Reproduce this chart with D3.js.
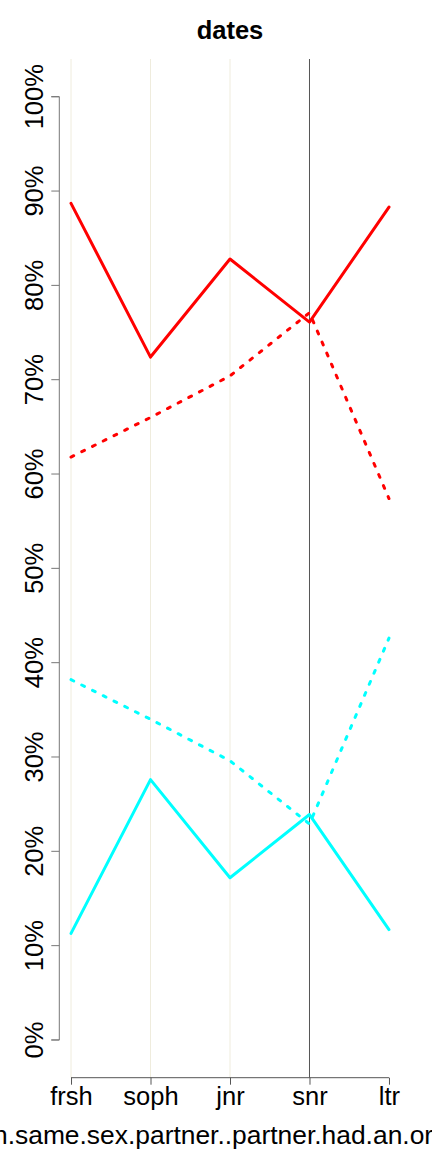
<!DOCTYPE html>
<html>
<head>
<meta charset="utf-8">
<script src="https://cdn.jsdelivr.net/npm/d3@7"></script>
<style>
html,body{margin:0;padding:0;background:#fff;overflow:hidden;}
svg{display:block;}
text{font-family:"Liberation Sans",Arial,Helvetica,sans-serif;fill:#000;}
</style>
</head>
<body>
<svg id="chart" width="432" height="1152"></svg>
<script>
// ---- data ----
const categories = ["frsh", "soph", "jnr", "snr", "ltr"];
const redSolid   = [88.7, 72.4, 82.8, 76.1, 88.3];
const cyanSolid  = [11.3, 27.6, 17.2, 23.9, 11.7];
const redDashed  = [61.8, 66.0, 70.4, 77.1, 57.4];
const cyanDashed = [38.2, 34.0, 29.6, 22.9, 42.6];
const yTicks = [0, 10, 20, 30, 40, 50, 60, 70, 80, 90, 100];
const titleText = "dates";
const xLabelPrefix = "Date.with.ow";
const xLabelText = "n.same.sex.partner..partner.had.an.orgasm";
const markedCategory = "snr";
const gridCategories = ["frsh", "soph", "jnr"];

const series = [
  {values: redDashed,  color: "#FF0000", dashed: true},
  {values: cyanDashed, color: "#00FFFF", dashed: true},
  {values: redSolid,   color: "#FF0000", dashed: false},
  {values: cyanSolid,  color: "#00FFFF", dashed: false}
];

// ---- layout ----
const plot = {left: 58.3, right: 401.7, top: 59, bottom: 1077.7};
const svg = d3.select("#chart");

const xIdx = d3.scaleLinear()
  .domain([-0.16, 4.16])
  .range([plot.left, plot.right]);
const x = c => xIdx(categories.indexOf(c));
const y = d3.scaleLinear()
  .domain([-4, 104])
  .range([plot.bottom, plot.top]);

const FS = 25.5;

// gridlines
svg.append("g").selectAll("line")
  .data(gridCategories).join("line")
  .attr("x1", d => x(d)).attr("x2", d => x(d))
  .attr("y1", plot.top).attr("y2", plot.bottom)
  .attr("stroke", "#EFECDD").attr("stroke-width", 1);

// marked vertical line
svg.append("line")
  .attr("x1", x(markedCategory)).attr("x2", x(markedCategory))
  .attr("y1", plot.top).attr("y2", plot.bottom)
  .attr("stroke", "#555").attr("stroke-width", 1);

// data lines
const line = d3.line()
  .x((d, i) => xIdx(i))
  .y(d => y(d));
svg.append("g").selectAll("path")
  .data(series).join("path")
  .attr("d", d => line(d.values))
  .attr("fill", "none")
  .attr("stroke", d => d.color)
  .attr("stroke-width", 3)
  .attr("stroke-linejoin", "round")
  .attr("stroke-linecap", "round")
  .attr("stroke-dasharray", d => d.dashed ? "3,9" : null);

// y axis
const yAxisG = svg.append("g")
  .attr("transform", `translate(${plot.left + 1},0)`)
  .call(d3.axisLeft(y).tickValues(yTicks).tickSize(8).tickFormat(d => d + "%"));
yAxisG.select(".domain").attr("d", `M-8,${y(0)}H0V${y(100)}H-8`).attr("stroke", "#777");
yAxisG.selectAll(".tick line").attr("stroke", "#777");
yAxisG.selectAll(".tick text")
  .attr("font-size", FS)
  .attr("font-family", "Liberation Sans, Arial, sans-serif")
  .attr("fill", "#000")
  .attr("text-anchor", "middle")
  .attr("transform", "rotate(-90)")
  .attr("x", 0).attr("y", -16.6).attr("dy", 0)
  .style("dominant-baseline", "auto");
yAxisG.selectAll(".tick").each(function(d){
  d3.select(this).attr("transform", `translate(0,${y(d)})`);
});

// x axis
const xBand = d3.scalePoint().domain(categories).range([xIdx(0), xIdx(4)]);
const xAxisG = svg.append("g")
  .attr("transform", `translate(0,${plot.bottom})`)
  .call(d3.axisBottom(xBand).tickSize(7));
xAxisG.select(".domain").attr("d", `M${xIdx(0)},0H${xIdx(4)}`).attr("stroke", "#555");
xAxisG.selectAll(".tick line").attr("stroke", "#555");
xAxisG.selectAll(".tick text")
  .attr("font-size", FS)
  .attr("font-family", "Liberation Sans, Arial, sans-serif")
  .attr("fill", "#000")
  .attr("y", 27.5).attr("dy", 0);

// title
svg.append("text")
  .attr("x", (plot.left + plot.right) / 2)
  .attr("y", 39)
  .attr("text-anchor", "middle")
  .attr("font-size", FS)
  .attr("font-weight", "bold")
  .text(titleText);

// x label
const xl = svg.append("text")
  .attr("y", 1144)
  .attr("font-size", 26.4)
  .text(xLabelPrefix + xLabelText);
const prefixW = xl.node().getSubStringLength(0, xLabelPrefix.length);
xl.attr("x", -7 - prefixW);
</script>
</body>
</html>
